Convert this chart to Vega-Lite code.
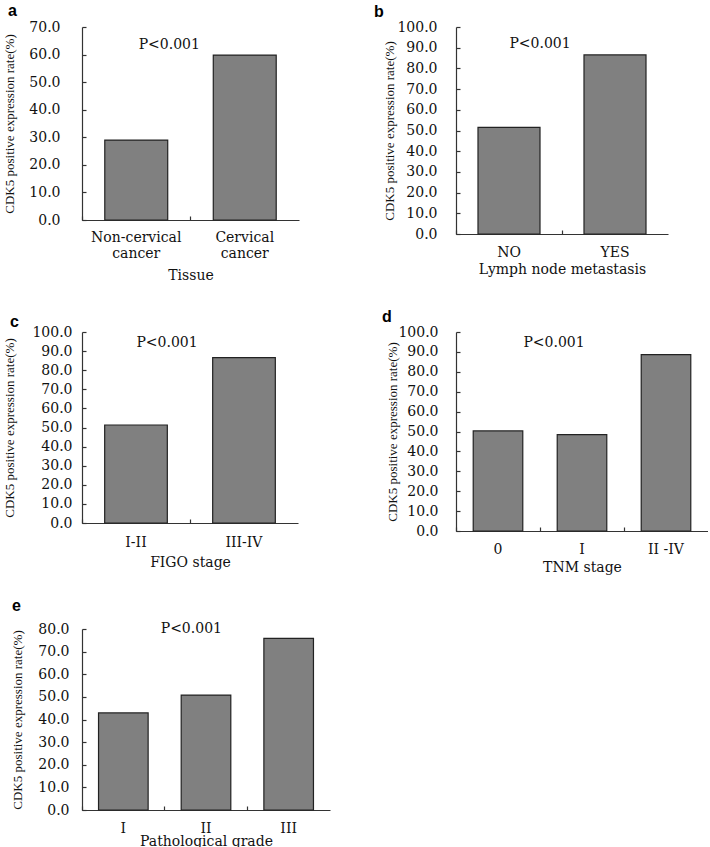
{
  "$schema": "https://vega.github.io/schema/vega-lite/v6.json",
  "padding": {"left": 3, "top": 3, "right": 0, "bottom": 0},
  "background": "white",
  "columns": 2,
  "bounds": "flush",
  "spacing": {"row": 98, "column": 126},
  "config": {
    "view": {"stroke": null},
    "axis": {
      "grid": false,
      "labelOverlap": false,
      "domainColor": "#333333",
      "domainWidth": 1.2,
      "tickColor": "#333333",
      "tickWidth": 1.2,
      "labelColor": "#111111",
      "titleColor": "#111111",
      "labelFont": "DejaVu Serif",
      "titleFont": "DejaVu Serif",
      "titleFontWeight": "normal"
    },
    "axisY": {
      "tickSize": -4,
      "labelFontSize": 14,
      "format": ".1f",
      "titleFont": "Liberation Serif",
      "titleFontSize": 13
    },
    "axisX": {
      "tickSize": -4,
      "bandPosition": 0,
      "labelAngle": 0,
      "labelFontSize": 14,
      "titleFontSize": 14,
      "labelLineHeight": 16
    },
    "title": {"font": "Liberation Sans", "fontSize": 16, "fontWeight": "bold", "anchor": "start", "frame": "group", "color": "#000000"},
    "bar": {"fill": "#808080", "stroke": "#222222", "strokeWidth": 1.2}
  },
  "concat": [
    {
      "title": {"text": "a", "dx": -74, "offset": 1},
      "width": 217, "height": 193,
      "data": {"values": [
        {"Tissue": "Non-cervical cancer", "rate": 29.0},
        {"Tissue": "Cervical cancer", "rate": 59.8}
      ]},
      "layer": [
        {
          "mark": {"type": "bar", "width": {"band": 0.58}},
          "encoding": {
            "x": {"field": "Tissue", "type": "nominal", "sort": null, "scale": {"paddingInner": 0, "paddingOuter": 0},
                  "axis": {"labelPadding": 14, "titlePadding": 8, "labelExpr": "split(datum.label, ' ')"}},
            "y": {"field": "rate", "type": "quantitative", "scale": {"domain": [0, 70]}, "title": "CDK5 positive expression rate(%)",
                  "axis": {"values": [0, 10, 20, 30, 40, 50, 60, 70], "labelOverlap": false, "labelPadding": 26, "titlePadding": 12}}
          }
        },
        {
          "data": {"values": [{"note": "P<0.001"}]},
          "mark": {"type": "text", "dx": 33, "font": "DejaVu Serif", "fontSize": 14, "fontWeight": "normal", "color": "#111111", "baseline": "middle", "align": "center"},
          "encoding": {
            "x": {"datum": "Non-cervical cancer", "type": "nominal"},
            "y": {"datum": 63.5, "type": "quantitative", "title": "CDK5 positive expression rate(%)",
                  "axis": {"values": [0, 10, 20, 30, 40, 50, 60, 70], "labelOverlap": false, "labelPadding": 26, "titlePadding": 12}},
            "text": {"field": "note"}
          }
        }
      ]
    },
    {
      "title": {"text": "b", "dx": -82, "offset": 0},
      "width": 212, "height": 207,
      "data": {"values": [
        {"Lymph node metastasis": "NO", "rate": 51.5},
        {"Lymph node metastasis": "YES", "rate": 86.5}
      ]},
      "layer": [
        {
          "mark": {"type": "bar", "width": {"band": 0.585}},
          "encoding": {
            "x": {"field": "Lymph node metastasis", "type": "nominal", "sort": null, "scale": {"paddingInner": 0, "paddingOuter": 0},
                  "axis": {"labelPadding": 15, "titlePadding": 3}},
            "y": {"field": "rate", "type": "quantitative", "scale": {"domain": [0, 100]}, "title": "CDK5 positive expression rate(%)",
                  "axis": {"values": [0, 10, 20, 30, 40, 50, 60, 70, 80, 90, 100], "labelOverlap": false, "labelPadding": 23, "titlePadding": 0}}
          }
        },
        {
          "data": {"values": [{"note": "P<0.001"}]},
          "mark": {"type": "text", "dx": 31, "font": "DejaVu Serif", "fontSize": 14, "fontWeight": "normal", "color": "#111111", "baseline": "middle", "align": "center"},
          "encoding": {
            "x": {"datum": "NO", "type": "nominal"},
            "y": {"datum": 91.8, "type": "quantitative", "title": "CDK5 positive expression rate(%)",
                  "axis": {"values": [0, 10, 20, 30, 40, 50, 60, 70, 80, 90, 100], "labelOverlap": false, "labelPadding": 23, "titlePadding": 0}},
            "text": {"field": "note"}
          }
        }
      ]
    },
    {
      "title": {"text": "c", "dx": -72, "offset": -5},
      "width": 216, "height": 191,
      "data": {"values": [
        {"FIGO stage": "I-II", "rate": 51.3},
        {"FIGO stage": "III-IV", "rate": 86.6}
      ]},
      "layer": [
        {
          "mark": {"type": "bar", "width": {"band": 0.58}},
          "encoding": {
            "x": {"field": "FIGO stage", "type": "nominal", "sort": null, "scale": {"paddingInner": 0, "paddingOuter": 0},
                  "axis": {"labelPadding": 16, "titlePadding": 6}},
            "y": {"field": "rate", "type": "quantitative", "scale": {"domain": [0, 100]}, "title": "CDK5 positive expression rate(%)",
                  "axis": {"values": [0, 10, 20, 30, 40, 50, 60, 70, 80, 90, 100], "labelOverlap": false, "labelPadding": 14, "titlePadding": 15}}
          }
        },
        {
          "data": {"values": [{"note": "P<0.001"}]},
          "mark": {"type": "text", "dx": 31, "font": "DejaVu Serif", "fontSize": 14, "fontWeight": "normal", "color": "#111111", "baseline": "middle", "align": "center"},
          "encoding": {
            "x": {"datum": "I-II", "type": "nominal"},
            "y": {"datum": 94.5, "type": "quantitative", "title": "CDK5 positive expression rate(%)",
                  "axis": {"values": [0, 10, 20, 30, 40, 50, 60, 70, 80, 90, 100], "labelOverlap": false, "labelPadding": 14, "titlePadding": 15}},
            "text": {"field": "note"}
          }
        }
      ]
    },
    {
      "title": {"text": "d", "dx": -74, "offset": 0},
      "width": 252, "height": 199,
      "data": {"values": [
        {"TNM stage": "0", "rate": 50.3},
        {"TNM stage": "I", "rate": 48.4},
        {"TNM stage": "II -IV", "rate": 88.6}
      ]},
      "layer": [
        {
          "mark": {"type": "bar", "width": {"band": 0.59}},
          "encoding": {
            "x": {"field": "TNM stage", "type": "nominal", "sort": null, "scale": {"paddingInner": 0, "paddingOuter": 0},
                  "axis": {"labelPadding": 15, "titlePadding": 4}},
            "y": {"field": "rate", "type": "quantitative", "scale": {"domain": [0, 100]}, "title": "CDK5 positive expression rate(%)",
                  "axis": {"values": [0, 10, 20, 30, 40, 50, 60, 70, 80, 90, 100], "labelOverlap": false, "labelPadding": 22, "titlePadding": -2}}
          }
        },
        {
          "data": {"values": [{"note": "P<0.001"}]},
          "mark": {"type": "text", "dx": 56, "font": "DejaVu Serif", "fontSize": 14, "fontWeight": "normal", "color": "#111111", "baseline": "middle", "align": "center"},
          "encoding": {
            "x": {"datum": "0", "type": "nominal"},
            "y": {"datum": 94.5, "type": "quantitative", "title": "CDK5 positive expression rate(%)",
                  "axis": {"values": [0, 10, 20, 30, 40, 50, 60, 70, 80, 90, 100], "labelOverlap": false, "labelPadding": 22, "titlePadding": -2}},
            "text": {"field": "note"}
          }
        }
      ]
    },
    {
      "title": {"text": "e", "dx": -70, "offset": 8},
      "width": 248, "height": 181,
      "data": {"values": [
        {"Pathological grade": "I", "rate": 42.9},
        {"Pathological grade": "II", "rate": 50.8},
        {"Pathological grade": "III", "rate": 75.9}
      ]},
      "layer": [
        {
          "mark": {"type": "bar", "width": {"band": 0.6}},
          "encoding": {
            "x": {"field": "Pathological grade", "type": "nominal", "sort": null, "scale": {"paddingInner": 0, "paddingOuter": 0},
                  "axis": {"labelPadding": 15, "titlePadding": -1}},
            "y": {"field": "rate", "type": "quantitative", "scale": {"domain": [0, 80]}, "title": "CDK5 positive expression rate(%)",
                  "axis": {"values": [0, 10, 20, 30, 40, 50, 60, 70, 80], "labelOverlap": false, "labelPadding": 17, "titlePadding": 13}}
          }
        },
        {
          "data": {"values": [{"note": "P<0.001"}]},
          "mark": {"type": "text", "dx": 68, "font": "DejaVu Serif", "fontSize": 14, "fontWeight": "normal", "color": "#111111", "baseline": "middle", "align": "center"},
          "encoding": {
            "x": {"datum": "I", "type": "nominal"},
            "y": {"datum": 80, "type": "quantitative", "title": "CDK5 positive expression rate(%)",
                  "axis": {"values": [0, 10, 20, 30, 40, 50, 60, 70, 80], "labelOverlap": false, "labelPadding": 17, "titlePadding": 13}},
            "text": {"field": "note"}
          }
        }
      ]
    }
  ]
}
